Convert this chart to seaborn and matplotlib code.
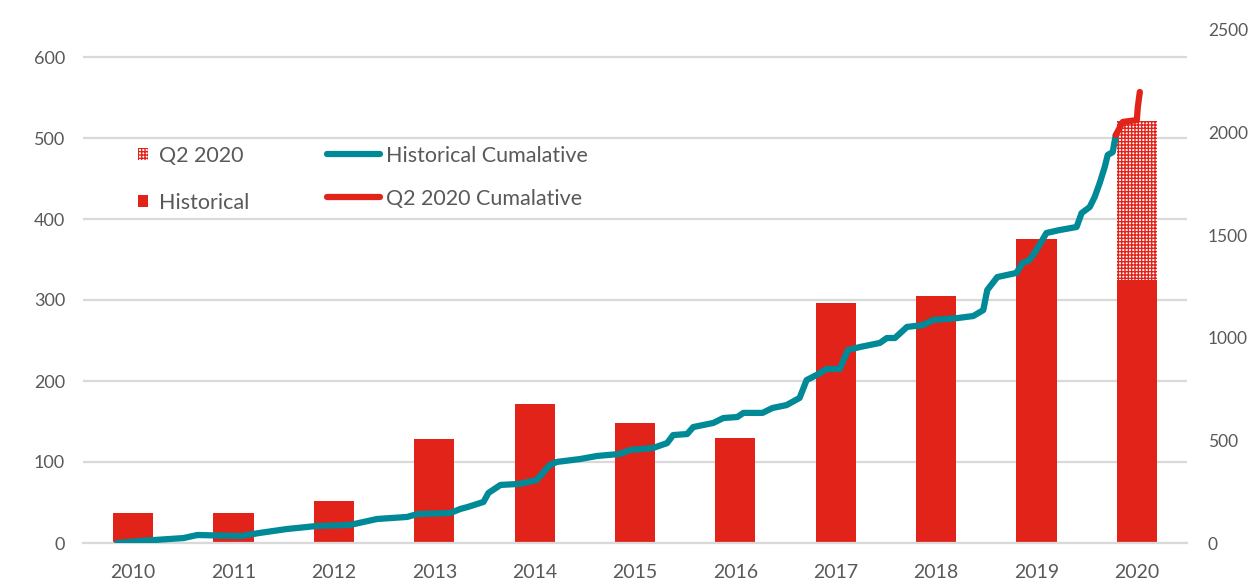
import numpy as np
import matplotlib
matplotlib.use("Agg")
import matplotlib.pyplot as plt
from matplotlib.lines import Line2D
from matplotlib.patches import Patch
import seaborn as sb

# data
years = ['2010', '2011', '2012', '2013', '2014', '2015', '2016', '2017', '2018', '2019', '2020']
historical = [37, 37, 52, 128, 171, 148, 130, 296, 305, 375, 325]
q2_total_2020 = 521   # historical + Q2 2020 for the last bar

# cumulative line (right axis), x in fractional years
hist_cum_x = [2009.84, 2010.07, 2010.50, 2010.64, 2011.07, 2011.26, 2011.53, 2011.83, 2012.16, 2012.43,
              2012.73, 2012.83, 2013.16, 2013.26, 2013.33, 2013.49, 2013.54, 2013.66, 2013.85, 2014.02,
              2014.15, 2014.22, 2014.45, 2014.62, 2014.85, 2014.95, 2015.18, 2015.32, 2015.38, 2015.52,
              2015.58, 2015.78, 2015.88, 2016.02, 2016.08, 2016.27, 2016.37, 2016.51, 2016.64, 2016.71,
              2016.81, 2016.91, 2017.04, 2017.12, 2017.24, 2017.44, 2017.51, 2017.59, 2017.71, 2017.87,
              2017.97, 2018.21, 2018.37, 2018.47, 2018.51, 2018.61, 2018.80, 2018.86, 2018.93, 2019.00,
              2019.10, 2019.23, 2019.40, 2019.45, 2019.53, 2019.58, 2019.63, 2019.68, 2019.71, 2019.76,
              2019.79]
hist_cum_y = [0, 10, 24, 39, 34, 49, 68, 83, 88, 117,
              127, 141, 146, 166, 175, 200, 244, 283, 288, 307,
              380, 395, 409, 424, 434, 453, 463, 487, 526, 531,
              565, 585, 609, 614, 634, 634, 658, 672, 707, 794,
              819, 848, 848, 940, 955, 975, 999, 999, 1053, 1062,
              1087, 1096, 1106, 1135, 1233, 1296, 1316, 1364, 1379, 1428,
              1511, 1525, 1540, 1608, 1637, 1686, 1754, 1832, 1891, 1905,
              1988]
q2_cum_x = [2019.79, 2019.86, 2020.00, 2020.01, 2020.03]
q2_cum_y = [1988, 2052, 2061, 2125, 2198]

RED = '#E2231A'
TEAL = '#008996'
GREY_TXT = '#595959'
GRID = '#D9D9D9'

plt.rcParams['font.family'] = ['Lato', 'DejaVu Sans']
plt.rcParams['hatch.linewidth'] = 1.0
plt.rcParams['hatch.color'] = RED

fig = plt.figure(figsize=(12.51, 5.86), dpi=100)
ax = fig.add_axes([83 / 1251, 43 / 586, 1104 / 1251, 513 / 586])

# Q2 2020 hatched bar first, historical drawn over its lower part
sb.barplot(x=['2020'], y=[q2_total_2020], order=years, ax=ax, width=0.4,
           color='white', edgecolor=RED, linewidth=0, hatch='+++++')
sb.barplot(x=years, y=historical, order=years, ax=ax, width=0.4,
           color=RED, saturation=1, linewidth=0)

ax.set_ylim(0, 600 * 513 / 486)
ax.set_yticks(range(0, 601, 100))
ax.set_axisbelow(True)
ax.grid(axis='y', color=GRID, linewidth=1.6)
ax.grid(axis='x', visible=False)
for s in ['top', 'left', 'right']:
    ax.spines[s].set_visible(False)
ax.spines['bottom'].set_color(GRID)
ax.spines['bottom'].set_linewidth(1.6)
ax.tick_params(axis='y', length=0, pad=13, labelsize=13, labelcolor=GREY_TXT)
ax.tick_params(axis='x', length=0, pad=15, labelsize=14, labelcolor=GREY_TXT)
for lab in ax.get_xticklabels():
    lab.set_family(['Liberation Sans Narrow', 'Lato', 'DejaVu Sans'])
ax.set_xlabel('')
ax.set_ylabel('')

ax2 = ax.twinx()
sb.lineplot(x=np.array(hist_cum_x) - 2010, y=hist_cum_y, ax=ax2, color=TEAL,
            linewidth=4.5, sort=False, estimator=None, solid_capstyle='round')
sb.lineplot(x=np.array(q2_cum_x) - 2010, y=q2_cum_y, ax=ax2, color=RED,
            linewidth=4.5, sort=False, estimator=None, solid_capstyle='round')
ax2.set_ylim(0, 2500)
ax2.set_yticks(range(0, 2501, 500))
# right labels kept inside the figure (reference crops them at the edge)
ax2.tick_params(axis='y', length=0, pad=15, labelsize=12.5, labelcolor=GREY_TXT)
for s in ax2.spines.values():
    s.set_visible(False)
ax2.set_xlabel('')
ax2.set_ylabel('')
ax.set_xlim(-0.5, 10.5)

# legends
bar_handles = [Patch(facecolor='white', edgecolor=RED, linewidth=0, hatch='+++++'),
               Patch(facecolor=RED, linewidth=0)]
leg1 = ax2.legend(bar_handles, ['Q2 2020', 'Historical'], loc='upper left',
                  bbox_to_anchor=(138 / 1251, 1 - 146 / 586), bbox_transform=fig.transFigure,
                  frameon=False, fontsize=15.5, labelcolor=GREY_TXT, borderpad=0, borderaxespad=0,
                  handlelength=0.47, handleheight=0.47, handletextpad=0.5, labelspacing=1.25)
ax2.add_artist(leg1)
line_handles = [Line2D([], [], color=TEAL, linewidth=4.5, solid_capstyle='round'),
                Line2D([], [], color=RED, linewidth=4.5, solid_capstyle='round')]
ax2.legend(line_handles, ['Historical Cumalative', 'Q2 2020 Cumalative'], loc='upper left',
           bbox_to_anchor=(327 / 1251, 1 - 146 / 586), bbox_transform=fig.transFigure,
           frameon=False, fontsize=15.5, labelcolor=GREY_TXT, borderpad=0, borderaxespad=0,
           handlelength=2.47, handletextpad=0.28, labelspacing=1.07)

plt.savefig('out.png', dpi=100)
